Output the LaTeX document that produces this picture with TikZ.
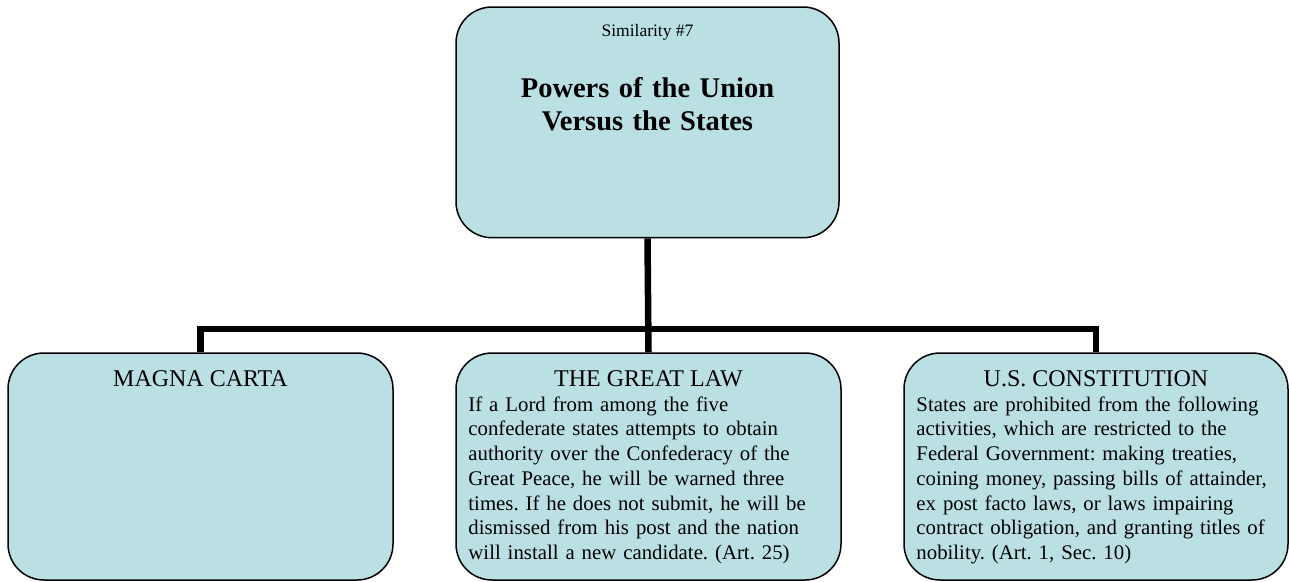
\documentclass[tikz,border=0pt]{standalone}
\usepackage{fontspec}
\setmainfont{Liberation Serif}
\frenchspacing
\definecolor{boxfill}{RGB}{187,224,227}
\tikzset{
  panel/.style={draw=black, line width=1.5pt, fill=boxfill, rounded corners=36pt,
                rectangle, inner sep=0pt},
  conn/.style={draw=black, line width=6.5pt, line join=miter},
  headtext/.style={inner sep=0pt, anchor=base, font=\fontsize{24}{28}\selectfont},
  bodytext/.style={inner sep=0pt, anchor=base west, align=left, text width=372pt,
                   font=\fontsize{20.8}{24.7}\selectfont},
}
\begin{document}
\begin{tikzpicture}[x=1pt, y=-1pt]
\useasboundingbox (0,0) rectangle (1289,581);

% top topic box
\node[panel, minimum width=383pt, minimum height=230.7pt] (topic) at (647.5,122.35) {};
% three source boxes
\node[panel, minimum width=385pt, minimum height=227pt] (magna) at (200.5,466.5) {};
\node[panel, minimum width=385pt, minimum height=227pt] (law) at (648.5,466.5) {};
\node[panel, minimum width=384pt, minimum height=227pt] (usc) at (1096,466.5) {};

% connectors
\coordinate (bus) at (648.5,329);
\draw[conn] (topic.south) -- (law.north);
\draw[conn] (magna.north) |- (bus) -| (usc.north);

% topic text
\node[inner sep=0pt, anchor=base, font=\fontsize{17.5}{20}\selectfont]
  (simlabel) at ([yshift=-30pt]topic.north) {Similarity \#7};
\node[inner sep=0pt, anchor=base, align=center, text width=380pt,
      font=\fontsize{28.5}{33}\selectfont\bfseries]
  (title) at ([yshift=-91pt]topic.north) {Powers of the Union\\Versus the States};

% source headings
\node[headtext] (magnahead) at ([yshift=-34pt]magna.north) {MAGNA CARTA};
\node[headtext] (lawhead) at ([yshift=-34pt]law.north) {THE GREAT LAW};
\node[headtext] (uschead) at ([yshift=-34pt]usc.north) {U.S. CONSTITUTION};

% source bodies
\node[bodytext] (lawbody) at ([xshift=13pt,yshift=-59pt]law.north west)
  {If a Lord from among the five\\
   confederate states attempts to obtain\\
   authority over the Confederacy of the\\
   Great Peace, he will be warned three\\
   times. If he does not submit, he will be\\
   dismissed from his post and the nation\\
   will install a new candidate. (Art. 25)};
\node[bodytext] (uscbody) at ([xshift=13pt,yshift=-59pt]usc.north west)
  {States are prohibited from the following\\
   activities, which are restricted to the\\
   Federal Government: making treaties,\\
   coining money, passing bills of attainder,\\
   ex post facto laws, or laws impairing\\
   contract obligation, and granting titles of\\
   nobility. (Art. 1, Sec. 10)};
\end{tikzpicture}
\end{document}
